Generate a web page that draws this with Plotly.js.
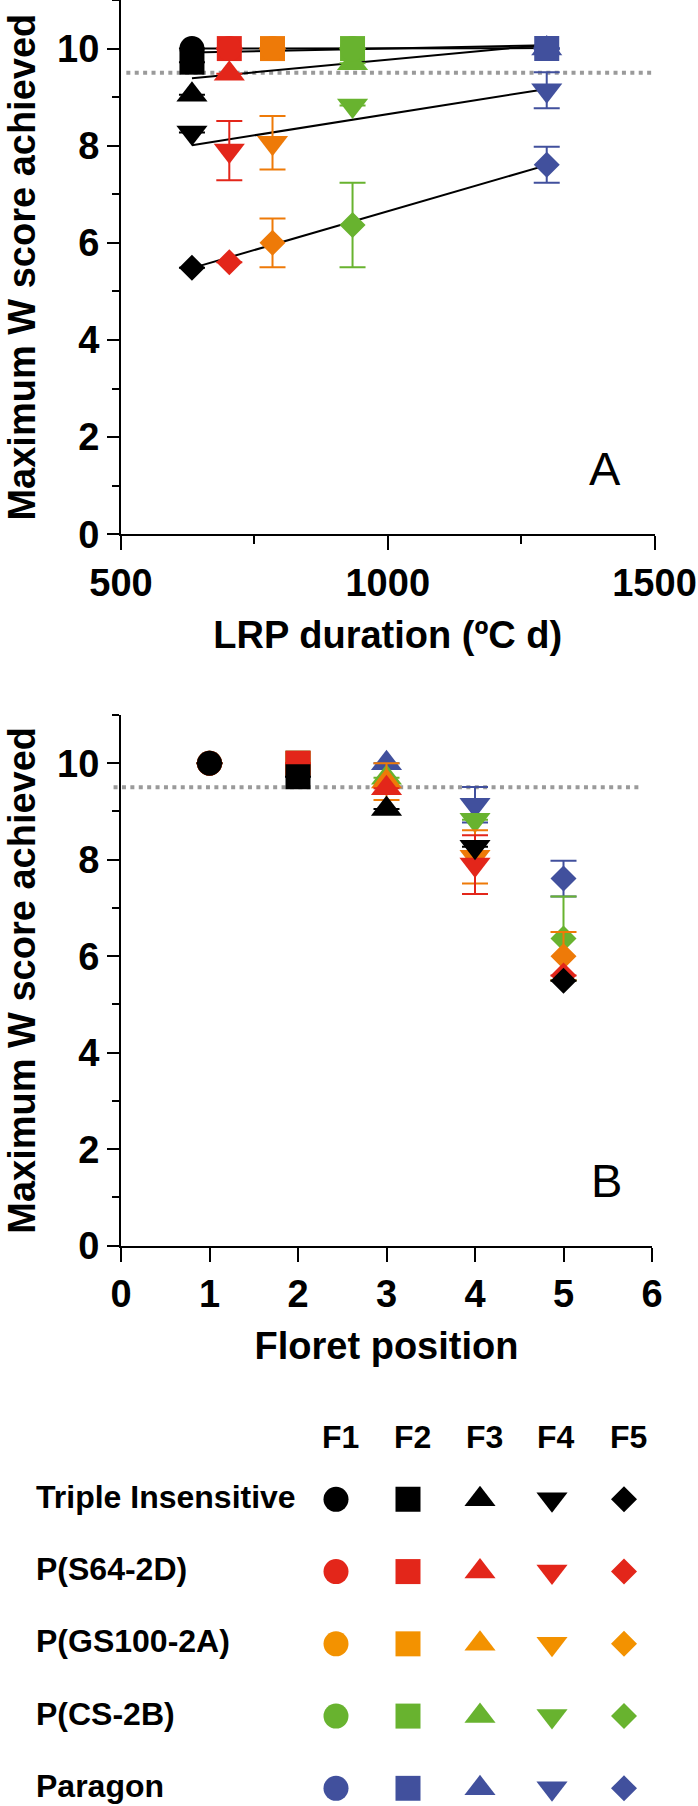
<!DOCTYPE html>
<html>
<head>
<meta charset="utf-8">
<script src="https://cdn.plot.ly/plotly-3.0.1.min.js"></script>
<style>html,body{margin:0;padding:0;background:#fff;}#chart{width:698px;height:1806px;}</style>
</head>
<body>
<div id="chart"></div>
<script>
// ---------------- data ----------------
const genotypes = ['Triple Insensitive', 'P(S64-2D)', 'P(GS100-2A)', 'P(CS-2B)', 'Paragon'];
const floretLabels = ['F1', 'F2', 'F3', 'F4', 'F5'];
const floretPositions = [1, 2, 3, 4, 5];
const lrpDuration = [633, 703, 784, 934, 1298];   // ºC d, one per genotype

const scoreTriple   = [10, 9.72, 9.05, 8.27, 5.49];
const scoreS64      = [10, 10, 9.48, 7.90, 5.60];
const scoreGS100    = [10, 10, 9.62, 8.06, 6.00];
const scoreCS       = [10, 10, 9.70, 8.83, 6.37];
const scoreParagon  = [10, 10, 10.0, 9.14, 7.61];

const errTriple   = [null, null, null, null, null];
const errS64      = [null, null, null, 0.61, null];
const errGS100    = [null, null, 0.38, 0.55, 0.50];
const errCS       = [null, null, null, null, 0.87];
const errParagon  = [null, null, null, 0.37, 0.37];

// regression lines (score at shortest and longest LRP) per floret
const fitF1 = [10.00, 10.01];
const fitF2 = [9.92, 10.07];
const fitF3 = [9.39, 10.08];
const fitF4 = [8.01, 9.17];
const fitF5 = [5.48, 7.60];

const threshold = 9.5;
// points not plotted in panel A: [genotype index, floret index]
const hiddenInA = [[2, 2]];

const xTicksA = [500, 1000, 1500];
const xTicksB = [0, 1, 2, 3, 4, 5, 6];
const yTicks = [0, 2, 4, 6, 8, 10];

// ---------------- styling ----------------
const scores = [scoreTriple, scoreS64, scoreGS100, scoreCS, scoreParagon];
const errs = [errTriple, errS64, errGS100, errCS, errParagon];
const fits = [fitF1, fitF2, fitF3, fitF4, fitF5];
const colors = ['#000000', '#E3261A', '#EE7A08', '#68B32F', '#41509D'];
const legendColors = ['#000000', '#E3261A', '#F39200', '#68B32F', '#41509D'];
const symbols = ['circle', 'square', 'triangle-up', 'triangle-down', 'diamond'];
const sizes = [25, 25, 27, 27, 20];
const FONT = 'Liberation Sans, Arial, Helvetica, sans-serif';

const traces = [];

// regression lines in panel A
fits.forEach(f => {
  traces.push({
    type: 'scatter', mode: 'lines', xaxis: 'x', yaxis: 'y',
    x: [lrpDuration[0], lrpDuration[lrpDuration.length - 1]], y: f,
    line: {color: '#000', width: 2}, hoverinfo: 'skip'
  });
});

// drawing order: Paragon first, Triple Insensitive last (on top)
const order = [4, 3, 2, 1, 0];
const floretOrder = [4, 3, 2, 1, 0];

// panel A
order.forEach(g => {
  const xs = [], ys = [], es = [], sy = [], sz = [];
  floretOrder.forEach(f => {
    if (hiddenInA.some(h => h[0] === g && h[1] === f)) return;
    xs.push(lrpDuration[g]); ys.push(scores[g][f]); es.push(errs[g][f]);
    sy.push(symbols[f]); sz.push(sizes[f]);
  });
  traces.push({
    type: 'scatter', mode: 'markers', xaxis: 'x', yaxis: 'y', name: genotypes[g],
    x: xs, y: ys,
    error_y: {type: 'data', array: es, visible: true, color: colors[g], thickness: 2, width: 13},
    marker: {symbol: sy, size: sz, color: colors[g], opacity: 1, line: {width: 0}}
  });
});

// panel B
order.forEach(g => {
  traces.push({
    type: 'scatter', mode: 'markers', xaxis: 'x2', yaxis: 'y2', name: genotypes[g],
    x: floretPositions, y: scores[g],
    error_y: {type: 'data', array: errs[g], visible: true, color: colors[g], thickness: 2, width: 13},
    marker: {symbol: symbols, size: sizes, color: colors[g], opacity: 1, line: {width: 0}}
  });
});

// symbol key (table)
genotypes.forEach((gname, g) => {
  traces.push({
    type: 'scatter', mode: 'markers', xaxis: 'x3', yaxis: 'y3', name: gname,
    x: floretLabels, y: floretLabels.map(() => gname),
    marker: {symbol: symbols, size: sizes, color: legendColors[g], opacity: 1, line: {width: 0}},
    hoverinfo: 'skip'
  });
});

const tickFont = {family: FONT, size: 38, color: '#000', weight: 'bold'};
const titleFont = {family: FONT, size: 38, color: '#000', weight: 'bold'};

function xAxisCommon() {
  return {
    showline: true, linecolor: '#000', linewidth: 2, mirror: false,
    ticks: 'outside', ticklen: 14, tickwidth: 2, tickcolor: '#000',
    showgrid: false, zeroline: false, tickfont: tickFont, automargin: false, fixedrange: true
  };
}
function yAxisCommon(anchor) {
  return {
    anchor: anchor, range: [0, 11], tickvals: yTicks, ticktext: yTicks.map(String),
    showline: true, linecolor: '#000', linewidth: 2,
    ticks: 'outside', ticklen: 12, tickwidth: 2, tickcolor: '#000',
    minor: {dtick: 1, tick0: 0, ticks: 'outside', ticklen: 7, tickwidth: 2, tickcolor: '#000', showgrid: false},
    showgrid: false, zeroline: false, tickfont: tickFont, automargin: false, fixedrange: true,
    title: {text: 'Maximum W score achieved', font: titleFont, standoff: 10}
  };
}

const layout = {
  width: 698, height: 1806,
  margin: {l: 0, r: 0, t: 0, b: 0, pad: 0},
  paper_bgcolor: '#fff', plot_bgcolor: '#fff',
  showlegend: false,
  font: {family: FONT, color: '#000'},
  xaxis: Object.assign(xAxisCommon(), {
    domain: [121 / 698, 654.5 / 698], anchor: 'y', range: [500, 1500],
    tickvals: xTicksA, ticktext: xTicksA.map(String),
    minor: {dtick: 250, tick0: 500, ticks: 'outside', ticklen: 8, tickwidth: 2, tickcolor: '#000', showgrid: false},
    title: {text: 'LRP duration (ºC d)', font: titleFont, standoff: 18}
  }),
  yaxis: Object.assign(yAxisCommon('x'), {domain: [1 - 534.3 / 1806, 1]}),
  xaxis2: Object.assign(xAxisCommon(), {
    domain: [121 / 698, 652 / 698], anchor: 'y2', range: [0, 6],
    tickvals: xTicksB, ticktext: xTicksB.map(String),
    title: {text: 'Floret position', font: titleFont, standoff: 18}
  }),
  yaxis2: Object.assign(yAxisCommon('x2'), {domain: [1 - 1245.7 / 1806, 1 - 715 / 1806]}),
  xaxis3: {domain: [300 / 698, 660 / 698], anchor: 'y3', type: 'category', categoryarray: floretLabels,
    categoryorder: 'array', range: [-0.5, 4.5], visible: false, fixedrange: true},
  yaxis3: {domain: [1 - 1802.8 / 1806, 1 - 1463.2 / 1806], anchor: 'x3', type: 'category', categoryarray: genotypes,
    categoryorder: 'array', range: [4.2, -0.5], visible: false, fixedrange: true},
  shapes: [
    {type: 'line', xref: 'x domain', yref: 'y', x0: 0.01, x1: 1.0, y0: threshold, y1: threshold,
      line: {color: '#9a9a9a', width: 4, dash: '4px,4.4px'}, layer: 'below'},
    {type: 'line', xref: 'x2 domain', yref: 'y2', x0: -0.014, x1: 0.98, y0: threshold, y1: threshold,
      line: {color: '#9a9a9a', width: 4, dash: '4px,4.4px'}, layer: 'below'}
  ],
  annotations: []
};

// panel letters
layout.annotations.push({xref: 'x', yref: 'y', x: 1408, y: 1.35, text: 'A', showarrow: false,
  font: {family: FONT, size: 47, color: '#000'}, xanchor: 'center', yanchor: 'middle'});
layout.annotations.push({xref: 'x2', yref: 'y2', x: 5.49, y: 1.36, text: 'B', showarrow: false,
  font: {family: FONT, size: 47, color: '#000'}, xanchor: 'center', yanchor: 'middle'});

// table headers and row labels
floretLabels.forEach((f, i) => {
  layout.annotations.push({xref: 'x3', yref: 'paper', x: i, y: 1 - 1437 / 1806, text: f, showarrow: false,
    xshift: 4, font: {family: FONT, size: 32, color: '#000', weight: 'bold'}, xanchor: 'center', yanchor: 'middle'});
});
genotypes.forEach((gname, g) => {
  layout.annotations.push({xref: 'paper', yref: 'y3', x: 34 / 698, y: g, text: gname, showarrow: false,
    yshift: 2.5, font: {family: FONT, size: 32, color: '#000', weight: 'bold'}, xanchor: 'left', yanchor: 'middle'});
});

Plotly.newPlot('chart', traces, layout, {staticPlot: true, displayModeBar: false});
</script>
</body>
</html>
